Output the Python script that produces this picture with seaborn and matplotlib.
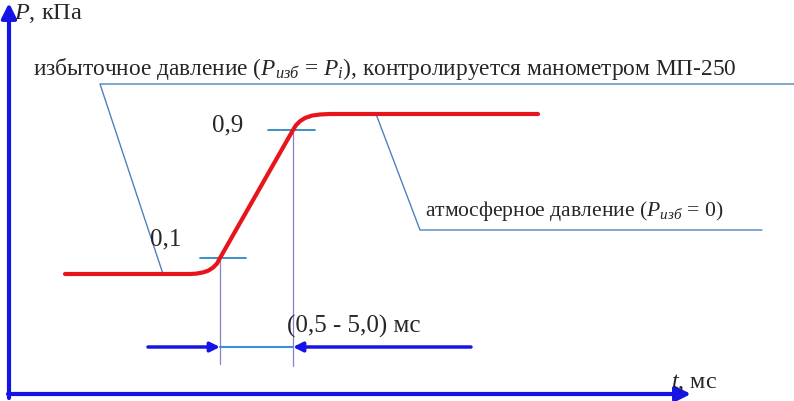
import numpy as np
import matplotlib
matplotlib.use("Agg")
import matplotlib.pyplot as plt
import seaborn as sns

# pressure front (t in screen-like units, P normalised: 0 = atmosphere, 1 = overpressure)
t_curve = [65, 190, 196, 203, 208, 213, 217, 220, 293, 296, 300, 305, 312, 320, 330, 538]
p_curve = [0.0, 0.0, 0.002, 0.01, 0.02, 0.04, 0.065, 0.1, 0.9, 0.93, 0.955, 0.975, 0.99, 0.997, 1.0, 1.0]

levels = [0.1, 0.9]
level_labels = ["0,1", "0,9"]
t_levels = [220, 293]

axis_label_p_unit = ", кПа"
axis_label_t_unit = ", мс"
label_over = "избыточное давление ($P_{изб}$ = $P_i$), контролируется манометром МП-250"
label_atm = "атмосферное давление ($P_{изб}$ = 0)"
label_span = "(0,5 - 5,0) мс"

sns.set_style("white")
plt.rcParams['font.family'] = ['Liberation Serif', 'DejaVu Serif']
plt.rcParams['mathtext.fontset'] = 'custom'
plt.rcParams['mathtext.it'] = 'Liberation Serif:italic'
plt.rcParams['mathtext.rm'] = 'Liberation Serif'

fig = plt.figure(figsize=(7.94, 4.02), dpi=100)
ax = fig.add_axes([0, 0, 1, 1])
ax.set_xlim(0, 794)
ax.set_ylim(-127 / 160, 275 / 160)
ax.axis("off")


def py(y):
    # convert picture row to P units
    return (275 - y) / 160


blue = "#1414e6"
callout = "#4f81bd"
tick_c = "#2e86c1"
guide = "#8a7fd0"

# axes with arrows
ax.annotate("", xy=(9, py(4)), xytext=(9, py(399)),
            arrowprops=dict(arrowstyle="-|>", color=blue, lw=3, mutation_scale=22, shrinkA=0, shrinkB=0))
ax.annotate("", xy=(691, py(395)), xytext=(8, py(395)),
            arrowprops=dict(arrowstyle="-|>", color=blue, lw=3, mutation_scale=22, shrinkA=0, shrinkB=0))

# callout lines
ax.plot([163, 100, 794], [0.0, py(85), py(85)], color=callout, lw=1)
ax.plot([376, 420, 762], [1.0, py(231), py(231)], color=callout, lw=1)

# level ticks and guide lines
ax.plot([200, 246], [levels[0], levels[0]], color=tick_c, lw=1.3)
ax.plot([268, 315], [levels[1], levels[1]], color=tick_c, lw=1.3)
ax.plot([t_levels[0], t_levels[0]], [levels[0], py(365)], color=guide, lw=0.9)
ax.plot([t_levels[1], t_levels[1]], [levels[1], py(367)], color=guide, lw=0.9)

# red pressure curve
sns.lineplot(x=t_curve, y=p_curve, color="#e8141c", lw=3, sort=False, estimator=None, ax=ax)

# dimension arrows
yd = py(348)
ax.plot([t_levels[0], t_levels[1]], [yd, yd], color="#3a8fd8", lw=1.5)
ax.annotate("", xy=(t_levels[0], yd), xytext=(148, yd),
            arrowprops=dict(arrowstyle="-|>", color=blue, lw=2.5, mutation_scale=14, shrinkA=0, shrinkB=0))
ax.annotate("", xy=(t_levels[1], yd), xytext=(471, yd),
            arrowprops=dict(arrowstyle="-|>", color=blue, lw=2.5, mutation_scale=14, shrinkA=0, shrinkB=0))

ax.text(14, py(13), "$P$" + axis_label_p_unit, fontsize=17.5, va="center", ha="left")
ax.text(671, py(383), "$t$" + axis_label_t_unit, fontsize=17.5, va="center", ha="left")
ax.text(33, py(69), label_over, fontsize=16.8, va="center", ha="left")
ax.text(425, py(211), label_atm, fontsize=15.6, va="center", ha="left")
ax.text(287, py(326), label_span, fontsize=18, va="center", ha="left")
ax.text(150, py(239), level_labels[0], fontsize=18, va="center", ha="left")
ax.text(212, py(125), level_labels[1], fontsize=18, va="center", ha="left")

fig.savefig("out.png", dpi=100)
